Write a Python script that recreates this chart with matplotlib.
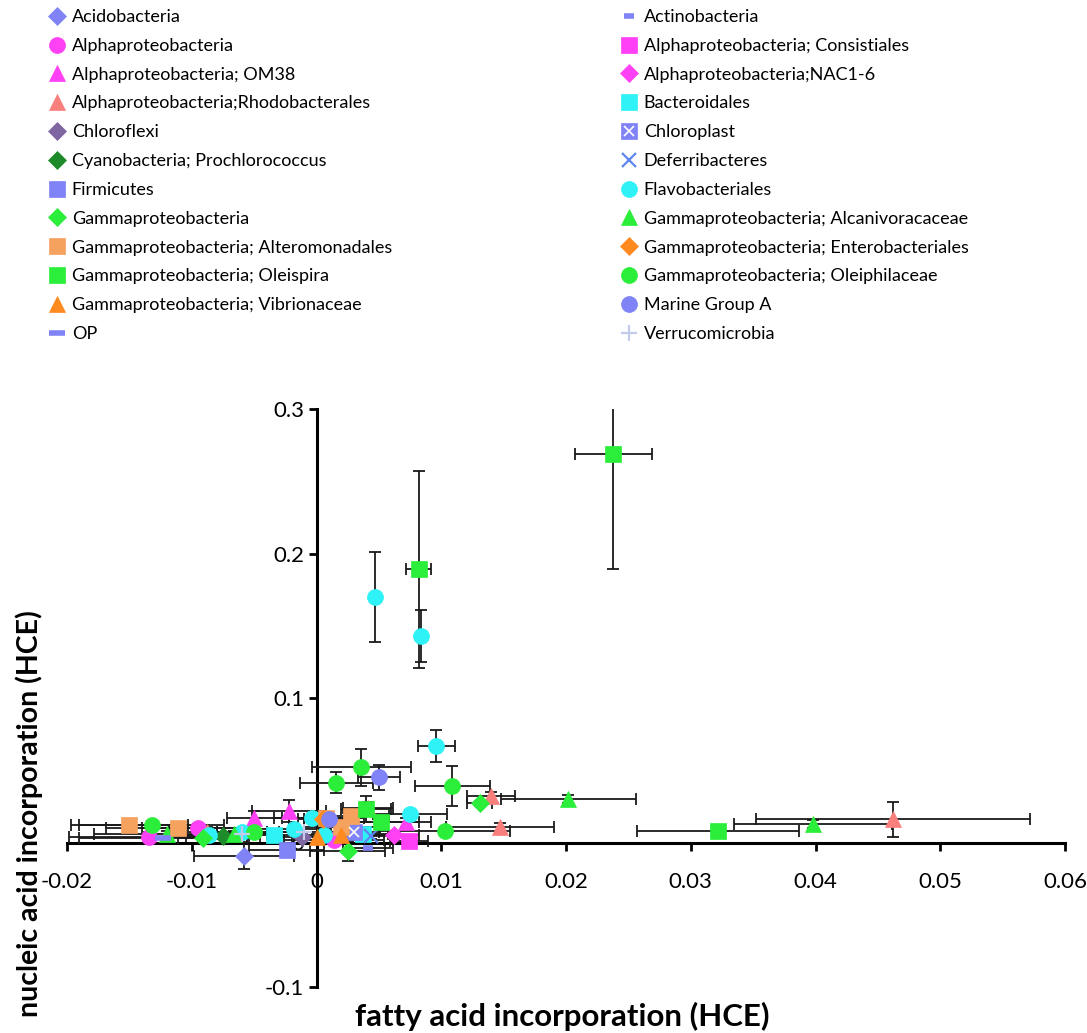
import matplotlib
matplotlib.use("Agg")
import matplotlib.pyplot as plt
from matplotlib.lines import Line2D
from matplotlib.legend_handler import HandlerTuple

plt.rcParams['font.family'] = ['Lato', 'DejaVu Sans']

# ---- legend groups ----
groups = [
    "Acidobacteria", "Actinobacteria",
    "Alphaproteobacteria", "Alphaproteobacteria; Consistiales",
    "Alphaproteobacteria; OM38", "Alphaproteobacteria;NAC1-6",
    "Alphaproteobacteria;Rhodobacterales", "Bacteroidales",
    "Chloroflexi", "Chloroplast",
    "Cyanobacteria; Prochlorococcus", "Deferribacteres",
    "Firmicutes", "Flavobacteriales",
    "Gammaproteobacteria", "Gammaproteobacteria; Alcanivoracaceae",
    "Gammaproteobacteria; Alteromonadales", "Gammaproteobacteria; Enterobacteriales",
    "Gammaproteobacteria; Oleispira", "Gammaproteobacteria; Oleiphilaceae",
    "Gammaproteobacteria; Vibrionaceae", "Marine Group A",
    "OP", "Verrucomicrobia",
]

# ---- data points: group index, x, y, x error, y error ----
pt_group = [0, 1,
            2, 2, 2,
            3,
            4, 4, 4,
            5,
            6, 6, 6, 6, 6,
            7, 7,
            8, 9, 10, 11, 12,
            13, 13, 13, 13, 13, 13, 13, 13, 13,
            14, 14, 14,
            15, 15, 15, 15,
            16, 16, 16, 16, 16,
            17,
            18, 18, 18, 18, 18,
            19, 19, 19, 19, 19, 19,
            20, 20,
            21, 21,
            22,
            23, 23]
pt_x = [-0.0058, 0.0041,
        -0.0134, -0.0095, 0.0014,
        0.0074,
        -0.0050, -0.0022, 0.0072,
        0.0062,
        0.0140, 0.0147, 0.0462, -0.0088, 0.0041,
        -0.0034, 0.0037,
        -0.0012, 0.0030, -0.0075, 0.0044, -0.0024,
        0.0047, 0.0084, 0.0096, 0.0075, -0.0086, -0.0060, -0.0018, -0.0004, 0.0006,
        0.0131, -0.0091, 0.0025,
        0.0202, 0.0398, -0.0120, -0.0066,
        -0.0150, -0.0111, 0.0008, 0.0028, 0.0020,
        0.0005,
        0.0238, 0.0082, 0.0322, 0.0040, 0.0052,
        0.0109, 0.0036, 0.0016, 0.0103, -0.0132, -0.0050,
        0.0000, 0.0020,
        0.0050, 0.0010,
        -0.0123,
        -0.0060, -0.0010]
pt_y = [-0.009, -0.004,
        0.004, 0.0097, 0.002,
        0.001,
        0.017, 0.0215, 0.014,
        0.0055,
        0.032, 0.0104, 0.016, 0.0076, 0.024,
        0.0055, 0.006,
        0.004, 0.007, 0.0045, 0.0042, -0.005,
        0.170, 0.143, 0.067, 0.0194, 0.005, 0.007, 0.009, 0.017, 0.0055,
        0.027, 0.003, -0.006,
        0.030, 0.0127, 0.006, 0.006,
        0.0118, 0.0097, 0.017, 0.018, 0.011,
        0.016,
        0.269, 0.189, 0.008, 0.023, 0.014,
        0.039, 0.052, 0.0415, 0.008, 0.0118, 0.0076,
        0.004, 0.0055,
        0.045, 0.0166,
        0.003,
        0.006, 0.007]
pt_xerr = [0.0040, 0.0020,
           0.0064, 0.0045, 0.0040,
           0.0015,
           0.0022, 0.0030, 0.0020,
           0.0020,
           0.0019, 0.0043, 0.0110, 0.0030, 0.0020,
           0.0020, 0.0020,
           0.0020, 0.0020, 0.0030, 0.0020, 0.0030,
           0.0000, 0.0000, 0.0015, 0.0030, 0.0030, 0.0020, 0.0030, 0.0030, 0.0020,
           0.0010, 0.0020, 0.0030,
           0.0054, 0.0063, 0.0058, 0.0030,
           0.0047, 0.0058, 0.0030, 0.0030, 0.0030,
           0.0020,
           0.0031, 0.0010, 0.0065, 0.0020, 0.0030,
           0.0030, 0.0040, 0.0029, 0.0052, 0.0058, 0.0030,
           0.0020, 0.0020,
           0.0017, 0.0020,
           0.0067,
           0.0020, 0.0020]
pt_yerr = [0.0095, 0.000,
           0.003, 0.003, 0.003,
           0.003,
           0.005, 0.0076, 0.003,
           0.000,
           0.003, 0.003, 0.012, 0.003, 0.004,
           0.003, 0.002,
           0.002, 0.002, 0.002, 0.002, 0.002,
           0.031, 0.018, 0.011, 0.003, 0.002, 0.002, 0.003, 0.003, 0.002,
           0.002, 0.002, 0.007,
           0.003, 0.003, 0.002, 0.002,
           0.002, 0.002, 0.004, 0.003, 0.003,
           0.002,
           0.080, 0.068, 0.003, 0.009, 0.003,
           0.014, 0.0127, 0.0075, 0.003, 0.003, 0.003,
           0.002, 0.002,
           0.0085, 0.003,
           0.000,
           0.000, 0.000]

# ---- styles per group ----
BLUE = "#7F83F5"
MAG = "#FF40F4"
SAL = "#F97F7C"
CYAN = "#2EF2F5"
GREEN = "#2BEE3A"
TAN = "#F4A25E"
ORANGE = "#FF8A20"
styles = [
    dict(marker="D", color=BLUE, ms=9),
    dict(marker="_", color=BLUE, ms=7, mew=4),
    dict(marker="o", color=MAG, ms=11.5),
    dict(marker="s", color=MAG, ms=11),
    dict(marker="^", color=MAG, ms=12),
    dict(marker="D", color=MAG, ms=9),
    dict(marker="^", color=SAL, ms=12),
    dict(marker="s", color=CYAN, ms=11),
    dict(marker="D", color="#7E66A0", ms=9),
    dict(marker="s", color=BLUE, ms=11),
    dict(marker="D", color="#1E8B2A", ms=9),
    dict(marker="x", color="#5F86F2", ms=10, mew=1.6),
    dict(marker="s", color=BLUE, ms=11),
    dict(marker="o", color=CYAN, ms=11.5),
    dict(marker="D", color=GREEN, ms=9),
    dict(marker="^", color=GREEN, ms=12),
    dict(marker="s", color=TAN, ms=11),
    dict(marker="D", color=ORANGE, ms=9),
    dict(marker="s", color=GREEN, ms=11),
    dict(marker="o", color=GREEN, ms=11.5),
    dict(marker="^", color=ORANGE, ms=12),
    dict(marker="o", color=BLUE, ms=11.5),
    dict(marker="_", color=BLUE, ms=11, mew=4),
    dict(marker="+", color="#C3CAEA", ms=12, mew=1.6),
]

fig = plt.figure(figsize=(10.87, 10.33), dpi=100)
ax = fig.add_axes([67/1087, 1 - 987/1033, 998/1087, 578/1033])

# error bars
ax.errorbar(pt_x, pt_y, xerr=pt_xerr, yerr=pt_yerr, fmt="none",
            ecolor="#1a1a1a", elinewidth=1.3, capsize=4.5, capthick=1.3, zorder=2)

def marker_kw(st):
    kw = dict(marker=st["marker"], markersize=st["ms"], linestyle="none")
    if st["marker"] in ("x", "+", "_"):
        kw.update(color=st["color"], markeredgewidth=st.get("mew", 1.5))
    else:
        kw.update(markerfacecolor=st["color"], markeredgecolor=st["color"],
                  markeredgewidth=0.5)
    return kw

handles = []
for gi, name in enumerate(groups):
    st = styles[gi]
    xs = [x for g, x in zip(pt_group, pt_x) if g == gi]
    ys = [y for g, y in zip(pt_group, pt_y) if g == gi]
    ax.plot(xs, ys, zorder=3, **marker_kw(st))
    h = Line2D([], [], **marker_kw(st))
    if name == "Chloroplast":
        ax.plot(xs, ys, marker="x", color="white", markersize=7.5, mew=1.2,
                linestyle="none", zorder=3.1)
        h = (h, Line2D([], [], marker="x", color="white", markersize=7.5, mew=1.2,
                       linestyle="none"))
    handles.append(h)

# axes styling
ax.set_xlim(-0.02, 0.06)
ax.set_ylim(-0.1, 0.3)
ax.spines["left"].set_position(("data", 0))
ax.spines["bottom"].set_position(("data", 0))
ax.spines["top"].set_visible(False)
ax.spines["right"].set_visible(False)
for s in ("left", "bottom"):
    ax.spines[s].set_linewidth(2.2)
    ax.spines[s].set_zorder(1)
ax.set_xticks([-0.02, -0.01, 0, 0.01, 0.02, 0.03, 0.04, 0.05, 0.06])
ax.set_xticklabels(["-0.02", "-0.01", "0", "0.01", "0.02", "0.03", "0.04", "0.05", "0.06"])
ax.set_yticks([-0.1, 0, 0.1, 0.2, 0.3])
ax.set_yticklabels(["-0.1", "0", "0.1", "0.2", "0.3"])
ax.tick_params(axis="x", direction="out", length=6, width=2, labelsize=16, pad=15)
ax.tick_params(axis="y", direction="out", length=6, width=2, labelsize=16, pad=3)
ax.set_facecolor("none")

ax.set_xlabel("fatty acid incorporation (HCE)", fontsize=22.5, fontweight="bold")
ax.xaxis.set_label_coords(0.496, -0.025)
ax.set_ylabel("nucleic acid incorporation (HCE)", fontsize=20.5, fontweight="bold")
ax.yaxis.set_label_coords(-0.024, 0.30)

# legends: two columns
left_idx = list(range(0, 24, 2))
right_idx = list(range(1, 24, 2))
common = dict(frameon=False, fontsize=13, handlelength=0.8, handletextpad=0.4,
              labelspacing=0.71, borderpad=0, borderaxespad=0,
              handler_map={tuple: HandlerTuple(ndivide=1, pad=0)})
leg1 = fig.legend([handles[i] for i in left_idx], [groups[i] for i in left_idx],
                  loc="upper left", bbox_to_anchor=(50/1087, 1 - 9/1033), **common)
leg2 = fig.legend([handles[i] for i in right_idx], [groups[i] for i in right_idx],
                  loc="upper left", bbox_to_anchor=(622/1087, 1 - 9/1033), **common)

fig.savefig("out.png", dpi=100)
